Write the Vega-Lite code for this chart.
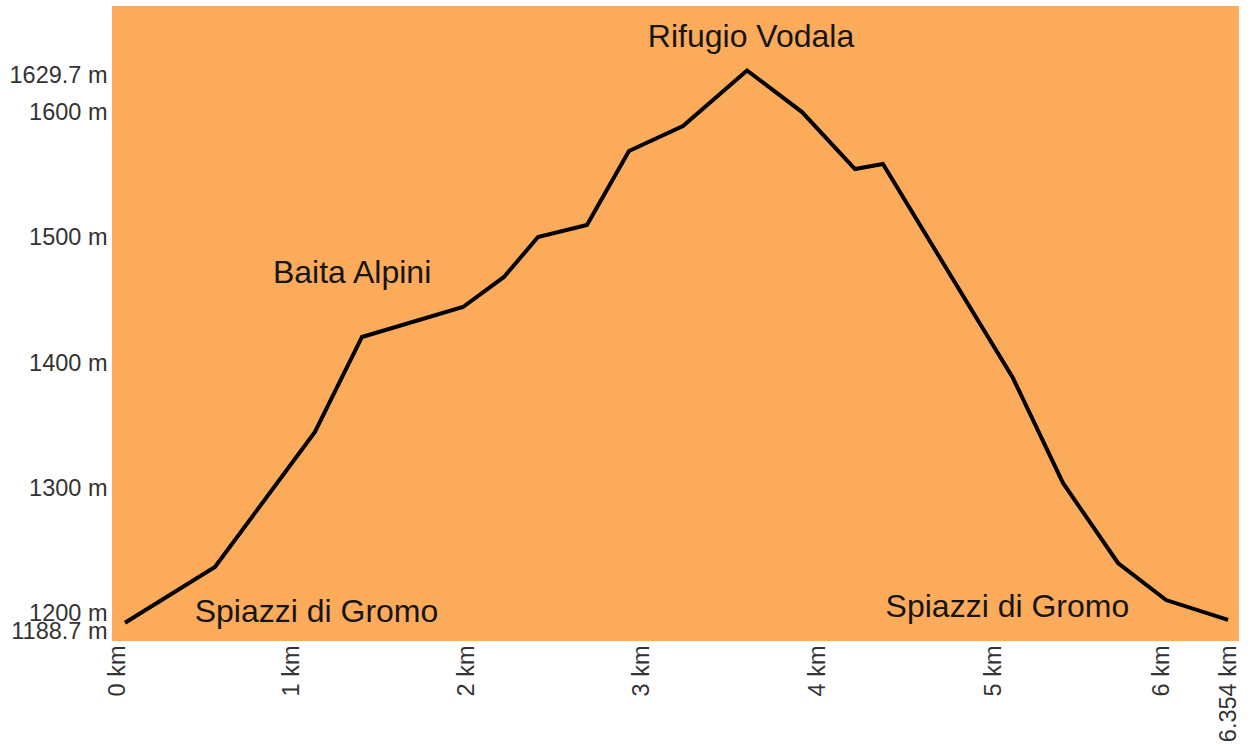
{
  "$schema": "https://vega.github.io/schema/vega-lite/v6.json",
  "autosize": {"type": "none"},
  "width": 1127,
  "height": 635,
  "padding": {"left": 112, "top": 6, "right": 12, "bottom": 110},
  "background": "#ffffff",
  "config": {
    "view": {"fill": "#FCAB5B", "stroke": null},
    "font": "Liberation Sans"
  },
  "datasets": {
    "profile": [
      {"km": 0, "elev": 1188.7},
      {"km": 0.518, "elev": 1233.2},
      {"km": 1.094, "elev": 1341.0},
      {"km": 1.365, "elev": 1416.9},
      {"km": 1.947, "elev": 1440.8},
      {"km": 2.183, "elev": 1464.8},
      {"km": 2.379, "elev": 1496.7},
      {"km": 2.661, "elev": 1506.3},
      {"km": 2.903, "elev": 1565.4},
      {"km": 3.214, "elev": 1585.4},
      {"km": 3.583, "elev": 1629.7},
      {"km": 3.900, "elev": 1596.5},
      {"km": 4.205, "elev": 1551.0},
      {"km": 4.366, "elev": 1555.0},
      {"km": 5.115, "elev": 1384.1},
      {"km": 5.403, "elev": 1300.3},
      {"km": 5.720, "elev": 1236.4},
      {"km": 5.997, "elev": 1206.8},
      {"km": 6.354, "elev": 1190.9}
    ],
    "places": [
      {"km": 3.606, "elev": 1648.7, "name": "Rifugio Vodala"},
      {"km": 1.308, "elev": 1459.7, "name": "Baita Alpini"},
      {"km": 1.103, "elev": 1189.3, "name": "Spiazzi di Gromo"},
      {"km": 5.083, "elev": 1193.5, "name": "Spiazzi di Gromo"}
    ]
  },
  "layer": [
    {
      "data": {"name": "profile"},
      "mark": {"type": "line", "color": "#000000", "strokeWidth": 4, "strokeJoin": "miter", "strokeCap": "butt"},
      "encoding": {
        "x": {
          "field": "km", "type": "quantitative",
          "scale": {"domain": [-0.0749, 6.417], "nice": false, "zero": false},
          "axis": {
            "title": null, "grid": false, "domain": false, "ticks": false, "tickSize": 0,
            "values": [0, 1, 2, 3, 4, 5, 6, 6.354],
            "labelExpr": "datum.value + ' km'",
            "labelAngle": -90, "labelPadding": 4,
            "labelOffset": {
              "condition": [
                {"test": "datum.value < 0.5", "value": -8},
                {"test": "datum.value < 1.5", "value": -7},
                {"test": "datum.value < 2.5", "value": -6},
                {"test": "datum.value < 3.5", "value": -4},
                {"test": "datum.value < 4.5", "value": -2},
                {"test": "datum.value == 6", "value": -5}
              ],
              "value": 0
            },
            "labelFontSize": 23.5, "labelColor": "#333333", "labelFont": "Liberation Sans",
            "labelOverlap": false, "labelFlush": false, "labelBound": false
          }
        },
        "y": {
          "field": "elev", "type": "quantitative",
          "scale": {"domain": [1174.1, 1681.2], "nice": false, "zero": false},
          "axis": {
            "title": null, "grid": false, "domain": false, "ticks": false, "tickSize": 0,
            "values": [1188.7, 1200, 1300, 1400, 1500, 1600, 1629.7],
            "labelExpr": "datum.value + ' m'",
            "labelPadding": 5,
            "labelOffset": {
              "condition": {"test": "datum.value < 1190", "value": 9},
              "value": 5
            },
            "labelFontSize": 23.5, "labelColor": "#333333", "labelFont": "Liberation Sans",
            "labelOverlap": false, "labelFlush": false, "labelBound": false
          }
        }
      }
    },
    {
      "data": {"name": "places"},
      "mark": {"type": "text", "fontSize": 32, "font": "Liberation Sans", "color": "#151515", "align": "center", "baseline": "alphabetic"},
      "encoding": {
        "x": {"field": "km", "type": "quantitative"},
        "y": {"field": "elev", "type": "quantitative"},
        "text": {"field": "name", "type": "nominal"}
      }
    }
  ]
}
